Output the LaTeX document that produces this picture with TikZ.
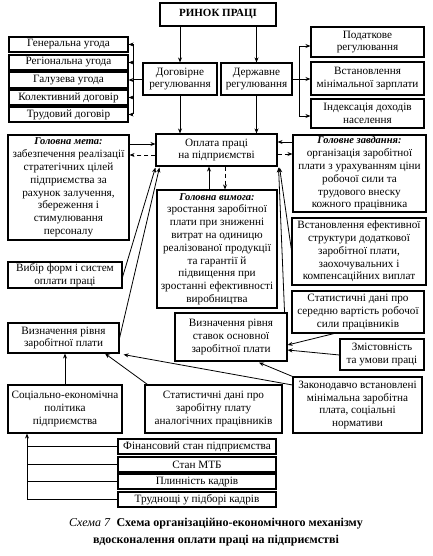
\documentclass[tikz,border=0pt]{standalone}
\usepackage{fontspec}
\setmainfont{Liberation Serif}
\usetikzlibrary{arrows.meta,calc}
\newcommand\bx[7][]{\node[box,#1,minimum width={(#5-#4)*1pt},minimum height={(#7-#6)*1pt}] (#2) at ({(#4+#5)/2},{(#6+#7)/2}) {#3};}
\begin{document}
\begin{tikzpicture}[x=1pt,y=-1pt,
  box/.style={draw,line width=1.1pt,inner sep=0pt,align=center,font=\fontsize{11.2}{12.8}\selectfont},
  con/.style={line width=0.8pt,-{Stealth[length=5pt,width=4pt]}},
  dcon/.style={con,dashed,dash pattern=on 4pt off 3pt},
  ln/.style={line width=0.8pt},
  hd/.style={font=\bfseries\itshape}]
\useasboundingbox[fill=white] (0,0) rectangle (432,556);
% boxes
\bx[font=\fontsize{11}{13}\selectfont\bfseries]{rynok}{РИНОК ПРАЦІ}{160}{276}{3}{26}
\bx{gen}{Генеральна угода}{9}{128}{37}{52}
\bx{reg}{Регіональна угода}{9}{128}{55}{70}
\bx{gal}{Галузева угода}{9}{128}{72}{88}
\bx{kol}{Колективний договір}{9}{128}{90}{105}
\bx{trud}{Трудовий договір}{9}{128}{107}{122}
\bx{dog}{Договірне\\регулювання}{143}{217}{63}{95}
\bx{derzh}{Державне\\регулювання}{221}{292}{63}{95}
\bx{pod}{Податкове\\регулювання}{311}{424}{27}{57}
\bx{vst}{Встановлення\\мінімальної зарплати}{311}{424}{62}{95}
\bx{ind}{Індексація доходів\\населення}{311}{424}{99}{128}
\bx{opl}{Оплата праці\\на підприємстві}{156}{277}{134}{166}
\bx{meta}{{\fontsize{10.5}{12.8}\selectfont\bfseries\itshape Головна мета:}\\забезпечення реалізації\\стратегічних цілей\\підприємства за\\рахунок залучення,\\збереження і\\стимулювання\\персоналу}{8}{129}{135}{240}
\bx{zavd}{{\fontsize{10.5}{12.8}\selectfont\bfseries\itshape Головне завдання:}\\організація заробітної\\плати з урахуванням ціни\\робочої сили та\\трудового внеску\\кожного працівника}{293}{426}{135}{212}
\bx{vymoga}{{\fontsize{10.5}{12.8}\selectfont\bfseries\itshape Головна вимога:}\\зростання заробітної\\плати при зниженні\\витрат на одиницю\\реалізованої продукції\\та гарантії й\\підвищення при\\зростанні ефективності\\виробництва}{157}{277}{190}{308}
\bx{struct}{Встановлення ефективної\\структури додаткової\\заробітної плати,\\заохочувальних і\\компенсаційних виплат}{292}{426}{218}{285}
\bx{vybir}{Вибір форм і систем\\оплати праці}{8}{122}{262}{288}
\bx{statser}{Статистичні дані про\\середню вартість робочої\\сили працівників}{292}{424}{291}{333}
\bx{vyzn}{Визначення рівня\\заробітної плати}{8}{119}{323}{353}
\bx{stavok}{Визначення рівня\\ставок основної\\заробітної плати}{175}{287}{313}{361}
\bx{zmist}{Змістовність\\та умови праці}{340}{424}{339}{370}
\bx{zakon}{Законодавчо встановлені\\мінімальна заробітна\\плата, соціальні\\нормативи}{293}{422}{377}{433}
\bx{soc}{Соціально-економічна\\політика\\підприємства}{8}{122}{385}{433}
\bx{statzar}{Статистичні дані про\\заробітну плату\\аналогічних працівників}{145}{282}{385}{433}
\bx{fin}{Фінансовий стан підприємства}{118}{276}{439}{454}
\bx{mtb}{Стан МТБ}{118}{276}{457}{472}
\bx{plyn}{Плинність кадрів}{118}{276}{474}{489}
\bx{trudn}{Труднощі у підборі кадрів}{118}{276}{492}{507}
% top arrows
\draw[con] (dog.north |- rynok.south) -- (dog.north);
\draw[con] (derzh.north |- rynok.south) -- (derzh.north);
\draw[con] (dog.south) -- (dog.south |- opl.north);
\draw[con] (derzh.south) -- (derzh.south |- opl.north);
% left bracket
\coordinate (lb) at (133,79);
\draw[ln] (dog.west) -- (lb);
\draw[ln] (lb |- gen.east) -- (lb |- trud.east);
\foreach \n in {gen,reg,gal,kol,trud} \draw[con] (lb |- \n.east) -- (\n.east);
% right bracket
\coordinate (rb) at (299,79);
\draw[ln] (derzh.east) -- (rb);
\draw[ln] (rb |- 0,46) -- (rb |- 0,116);
\draw[con] (rb |- 0,46) -- (pod.west |- 0,46);
\draw[con] (rb) -- (vst.west |- rb);
\draw[con] (rb |- 0,116) -- (ind.west |- 0,116);
% around opl
\draw[con] (meta.east |- 0,144) -- (opl.west |- 0,144);
\draw[dcon] (opl.west |- 0,155) -- (meta.east |- 0,155);
\draw[con] (zavd.west |- 0,142) -- (opl.east |- 0,142);
\draw[dcon] (opl.east |- 0,154) -- (zavd.west |- 0,154);
\draw[con] (vymoga.north -| 209,0) -- (opl.south -| 209,0);
\draw[dcon] (opl.south -| 225,0) -- (vymoga.north -| 225,0);
\draw[con] (vybir.east |- 0,277) -- ($(opl.south west)+(0,1)$);
\draw[con] (vyzn.east |- 0,338) -- ($(opl.south west)+(4,1)$);
\draw[con] ($(stavok.north east)+(-3,0)$) -- ($(opl.south east)+(1,1)$);
\draw[con] (struct.west |- 0,250) -- ($(opl.south east)+(2,1)$);
% into stavok
\draw[con] (statser.south -| 334,0) -- (stavok.east |- 0,345);
\draw[con] (zmist.west |- 0,355) -- (stavok.east |- 0,350);
\draw[con] (zakon.north west) -- ($(stavok.south)+(28,1)$);
% into vyzn
\draw[con] (zakon.west |- 0,385) -- ($(vyzn.south east)+(4,1)$);
\draw[con] ($(statzar.north west)+(3,0)$) -- (vyzn.south -| 105,0);
\draw[con] (soc.north -| 65,0) -- (vyzn.south -| 65,0);
% bottom bracket
\coordinate (bb) at (27,500);
\draw[con] (bb) -- (soc.south -| bb);
\foreach \n in {fin,mtb,plyn,trudn} \draw[ln] (bb |- \n.west) -- (\n.west);
% caption
\node[font=\fontsize{12}{14}\selectfont, anchor=center] (cap1) at (216,524) {\textit{Схема 7}\enspace\textbf{Схема організаційно-економічного механізму}};
\node[font=\fontsize{12}{14}\selectfont\bfseries, anchor=center] (cap2) at (216,541) {вдосконалення оплати праці на підприємстві};
\end{tikzpicture}
\end{document}
